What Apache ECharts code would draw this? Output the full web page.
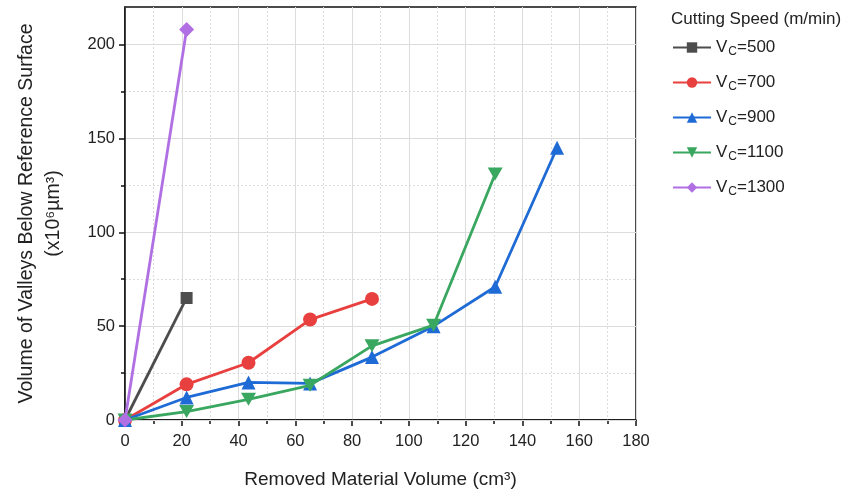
<!DOCTYPE html>
<html>
<head>
<meta charset="utf-8">
<script src="https://cdn.jsdelivr.net/npm/echarts@6/dist/echarts.min.js"></script>
<style>
  html, body { margin: 0; padding: 0; background: #fff; }
  #chart { width: 848px; height: 496px; }
</style>
</head>
<body>
<div id="chart"></div>
<script>
// Cutting speeds (m/min)
const speeds = [500, 700, 900, 1100, 1300];

// Removed material volume (cm^3) per series
const x500  = [0, 21.7];
const x700  = [0, 21.7, 43.5, 65.2, 87.0];
const x900  = [0, 21.7, 43.5, 65.2, 87.0, 108.7, 130.4, 152.2];
const x1100 = [0, 21.7, 43.5, 65.2, 87.0, 108.7, 130.4];
const x1300 = [0, 21.7];

// Volume of valleys below reference surface (x10^6 µm^3)
const y500  = [0, 65];
const y700  = [0, 19, 30.5, 53.5, 64.5];
const y900  = [0, 12, 20, 19.5, 33.5, 50, 71, 145];
const y1100 = [0, 4.5, 11, 18.5, 39.5, 50.5, 131];
const y1300 = [0, 208];

// Axis tick labels and minor ticks
const xTicks = [0, 20, 40, 60, 80, 100, 120, 140, 160, 180];
const yTicks = [0, 50, 100, 150, 200];
const yMinorTicks = [25, 75, 125, 175];

const xs = [x500, x700, x900, x1100, x1300];
const ys = [y500, y700, y900, y1100, y1300];
const colors = ['#4d4d4d', '#e8403f', '#1f6bd6', '#3aa760', '#b06fe3'];
const symbols = ['rect', 'circle', 'triangle', 'path://M0,0 L10,0 L5,8.66 Z', 'diamond'];
const symbolSizes = [12, 14, 14, [15, 13], 15];

const FONT = 'Liberation Sans, Arial, sans-serif';
const TXT = '#222';
const AXIS = '#111';
const GRID = '#dcdcdc';

const series = speeds.map((s, i) => ({
  name: 'Vc=' + s,
  type: 'line',
  yAxisIndex: 0,
  data: xs[i].map((x, j) => [x, ys[i][j]]),
  symbol: symbols[i],
  symbolSize: symbolSizes[i],
  showAllSymbol: true,
  itemStyle: { color: colors[i] },
  lineStyle: { color: colors[i], width: 2.8 },
  z: 10 + i
}));

const chart = echarts.init(document.getElementById('chart'), null, { renderer: 'canvas' });
chart.setOption({
  animation: false,
  backgroundColor: '#fff',
  textStyle: { fontFamily: FONT, color: TXT },
  title: {
    text: 'Cutting Speed (m/min)',
    left: 666,
    top: 6,
    textStyle: { fontFamily: FONT, fontSize: 17, fontWeight: 'normal', color: TXT }
  },
  legend: {
    orient: 'vertical',
    left: 667,
    top: 34,
    itemWidth: 38,
    itemHeight: 13,
    itemGap: 16,
    data: series.map(s => s.name),
    formatter: name => '{n|V}{s|C}{n|' + name.slice(2) + '}',
    textStyle: {
      fontFamily: FONT,
      color: TXT,
      rich: {
        n: { fontSize: 17, fontFamily: FONT, color: TXT },
        s: { fontSize: 12, fontFamily: FONT, color: TXT, padding: [9, 0, 0, 1] }
      }
    }
  },
  grid: {
    left: 125,
    right: 212,
    top: 7,
    bottom: 76,
    show: true,
    borderColor: AXIS,
    borderWidth: 1.5,
    containLabel: false,
    outerBoundsMode: 'none'
  },
  xAxis: {
    type: 'value',
    min: 0,
    max: 180,
    interval: 20,
    name: 'Removed Material Volume (cm³)',
    nameLocation: 'middle',
    nameGap: 50,
    nameMoveOverlap: false,
    nameTextStyle: { fontFamily: FONT, fontSize: 19, color: TXT },
    axisLine: { show: true, onZero: false, lineStyle: { color: AXIS, width: 1.5 } },
    axisTick: { show: true, length: 6, lineStyle: { color: AXIS, width: 1.5 } },
    minorTick: { show: true, splitNumber: 2, length: 4, lineStyle: { color: AXIS, width: 1.5 } },
    axisLabel: { fontFamily: FONT, fontSize: 16.5, color: TXT, margin: 13, customValues: xTicks },
    splitLine: { show: true, lineStyle: { color: GRID, width: 1 } },
    minorSplitLine: { show: true, lineStyle: { color: GRID, width: 1, type: [2, 2] } }
  },
  yAxis: [
    {
      type: 'value',
      min: 0,
      max: 220,
      interval: 50,
      name: 'Volume of Valleys Below Reference Surface\n(x10⁶µm³)',
      nameLocation: 'middle',
      nameGap: 58,
      nameRotate: 90,
      nameTextStyle: { fontFamily: FONT, fontSize: 19.5, color: TXT, lineHeight: 27 },
      axisLine: { show: true, onZero: false, lineStyle: { color: AXIS, width: 1.5 } },
      axisTick: { show: true, length: 6, customValues: yTicks, lineStyle: { color: AXIS, width: 1.5 } },
      axisLabel: { fontFamily: FONT, fontSize: 16.5, color: TXT, margin: 10, customValues: yTicks },
      splitLine: { show: true, lineStyle: { color: GRID, width: 1 } },
      z: 3
    },
    {
      // minor ticks and dotted minor grid lines
      type: 'value',
      position: 'left',
      min: 0,
      max: 220,
      interval: 25,
      axisLine: { show: false },
      axisTick: { show: true, length: 4, customValues: yMinorTicks, lineStyle: { color: AXIS, width: 1.5 } },
      axisLabel: { show: false },
      splitLine: { show: true, lineStyle: { color: GRID, width: 1, type: [2, 2] } },
      z: 2
    }
  ],
  series: series
});
</script>
</body>
</html>
